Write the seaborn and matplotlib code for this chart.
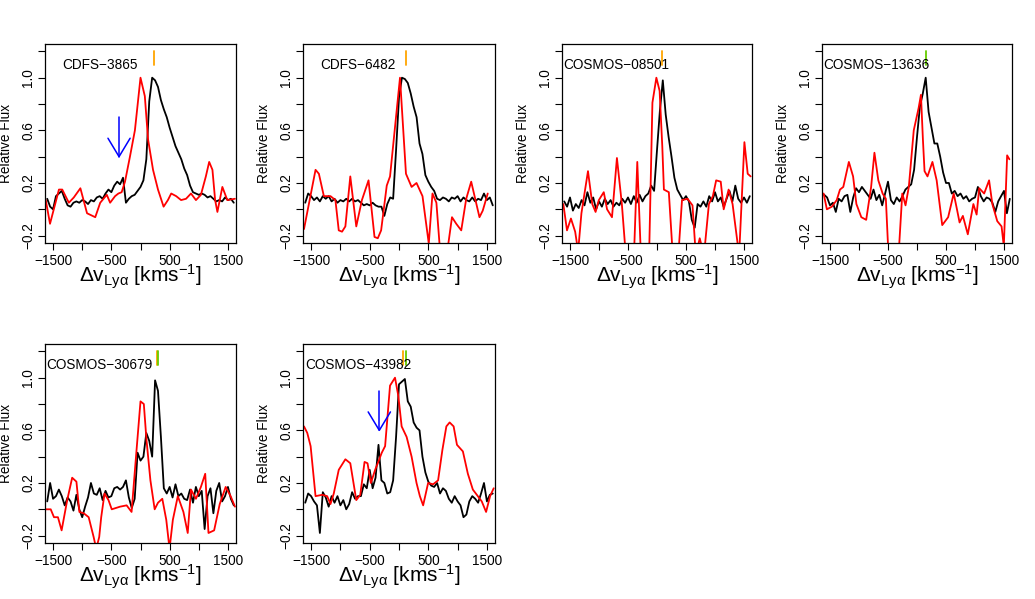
import matplotlib
matplotlib.use("Agg")
import matplotlib.pyplot as plt
import seaborn as sns

# --- data ---
names = ["CDFS\u22123865", "CDFS\u22126482", "COSMOS\u221208501",
         "COSMOS\u221213636", "COSMOS\u221230679", "COSMOS\u221243982"]

# black: high resolution spectrum, sampled on a common velocity grid (km/s)
vel_black = [-1600, -1550, -1500, -1450, -1400, -1350, -1300, -1250, -1200, -1150,
             -1100, -1050, -1000, -950, -900, -850, -800, -750, -700, -650,
             -600, -550, -500, -450, -400, -350, -300, -250, -200, -150,
             -100, -50, 0, 50, 100, 150, 200, 250, 300, 350,
             400, 450, 500, 550, 600, 650, 700, 750, 800, 850,
             900, 950, 1000, 1050, 1100, 1150, 1200, 1250, 1300, 1350,
             1400, 1450, 1500, 1550, 1600]

black_1 = [0.08, 0.02, 0.00, 0.10, 0.12, 0.14, 0.08, 0.03, 0.02, 0.05,
           0.06, 0.05, 0.07, 0.06, 0.04, 0.07, 0.06, 0.09, 0.10, 0.08,
           0.12, 0.15, 0.13, 0.18, 0.21, 0.19, 0.24, 0.05, 0.08, 0.10,
           0.11, 0.14, 0.17, 0.22, 0.38, 0.82, 1.00, 0.98, 0.93, 0.83,
           0.76, 0.70, 0.62, 0.55, 0.48, 0.43, 0.38, 0.31, 0.26, 0.18,
           0.13, 0.12, 0.11, 0.12, 0.11, 0.09, 0.10, 0.08, 0.06, 0.07,
           0.06, 0.09, 0.07, 0.08, 0.05]
black_2 = [0.05, 0.12, 0.10, 0.07, 0.09, 0.06, 0.10, 0.08, 0.10, 0.06,
           0.08, 0.05, 0.07, 0.06, 0.08, 0.06, 0.08, 0.06, 0.07, 0.05,
           0.03, 0.04, 0.03, 0.05, 0.03, 0.02, 0.02, -0.05, 0.04, 0.09,
           0.08, 0.45, 0.85, 1.00, 0.99, 0.96, 0.88, 0.78, 0.70, 0.50,
           0.42, 0.26, 0.21, 0.17, 0.14, 0.08, 0.07, 0.09, 0.08, 0.06,
           0.09, 0.08, 0.10, 0.06, 0.09, 0.07, 0.06, 0.09, 0.06, 0.08,
           0.07, 0.12, 0.07, 0.09, 0.03]
black_3 = [0.06, 0.02, 0.09, -0.01, 0.04, 0.01, 0.07, 0.03, 0.13, 0.05,
           0.09, 0.00, 0.06, 0.02, 0.08, 0.04, 0.07, 0.02, 0.05, 0.03,
           0.08, 0.05, 0.09, 0.04, 0.10, 0.05, 0.11, 0.06, 0.10, 0.12,
           0.18, 0.14, 0.45, 0.75, 0.98, 0.72, 0.55, 0.40, 0.24, 0.15,
           0.11, 0.07, 0.10, 0.06, -0.08, -0.14, 0.04, 0.02, 0.06, 0.02,
           0.10, 0.06, 0.13, 0.06, 0.09, 0.02, 0.08, 0.14, 0.06, 0.18,
           0.08, 0.05, 0.09, 0.05, 0.10]
black_4 = [0.11, 0.09, 0.03, 0.05, -0.02, 0.08, 0.06, 0.10, 0.11, -0.02,
           0.09, 0.16, 0.13, 0.17, 0.14, 0.11, 0.08, 0.15, 0.07, 0.11,
           0.03, 0.12, 0.21, 0.07, 0.04, 0.09, 0.06, 0.10, 0.15, 0.17,
           0.19, 0.30, 0.55, 0.78, 0.88, 1.00, 0.74, 0.62, 0.50, 0.50,
           0.40, 0.28, 0.20, 0.20, 0.12, 0.14, 0.10, 0.12, 0.08, 0.10,
           0.06, 0.08, 0.09, 0.17, 0.10, 0.06, 0.09, 0.08, 0.05, -0.02,
           0.06, 0.10, 0.14, -0.03, 0.08]
black_5 = [0.06, 0.20, 0.08, 0.10, 0.15, 0.10, 0.03, 0.09, 0.06, -0.01,
           0.11, 0.00, -0.06, 0.02, 0.09, 0.20, 0.12, 0.11, 0.16, 0.07,
           0.14, 0.09, 0.10, 0.16, 0.17, 0.15, 0.17, 0.22, 0.09, 0.01,
           0.08, 0.43, 0.37, 0.40, 0.58, 0.52, 0.40, 0.98, 0.90, 0.55,
           0.16, 0.12, 0.17, 0.09, 0.19, 0.10, 0.12, 0.08, 0.07, 0.15,
           0.05, 0.17, 0.10, 0.14, -0.15, 0.10, 0.16, -0.03, 0.14, 0.20,
           0.06, 0.10, 0.17, 0.08, 0.03]
black_6 = [0.05, 0.12, 0.10, 0.06, 0.03, -0.18, 0.13, 0.09, 0.02, 0.10,
           0.05, 0.10, 0.03, 0.07, 0.00, 0.04, 0.13, 0.08, 0.10, 0.10,
           0.19, 0.16, 0.30, 0.16, 0.24, 0.49, 0.22, 0.20, 0.12, 0.13,
           0.22, 0.55, 0.95, 0.97, 0.99, 0.82, 0.78, 0.66, 0.62, 0.60,
           0.40, 0.28, 0.21, 0.18, 0.17, 0.20, 0.12, 0.16, 0.14, 0.08,
           0.05, 0.10, 0.06, 0.03, -0.06, -0.04, 0.06, 0.10, 0.08, 0.05,
           0.12, 0.20, 0.06, 0.11, 0.12]

# red: lower resolution spectrum, own velocity samples per object
red_vel_1 = [-1625, -1552, -1399, -1342, -1229, -1144, -1031, -917, -776, -691,
             -578, -521, -436, -379, -323, -266, -181, -96, 0, 74,
             130, 215, 300, 396, 470, 527, 612, 696, 781, 866,
             951, 1036, 1121, 1178, 1234, 1280, 1319, 1404, 1489, 1619]
red_1 = [0.07, -0.11, 0.15, 0.15, 0.05, 0.09, 0.16, -0.03, -0.06, 0.05,
         0.11, 0.05, 0.10, 0.12, 0.13, 0.21, 0.40, 0.60, 1.00, 0.86,
         0.53, 0.30, 0.15, 0.02, 0.07, 0.12, 0.10, 0.07, 0.08, 0.12,
         0.07, 0.11, 0.25, 0.36, 0.30, 0.07, -0.02, 0.17, 0.07, 0.08]

red_vel_2 = [-1621, -1424, -1367, -1282, -1169, -1085, -1028, -972, -915, -831,
             -729, -633, -520, -418, -362, -305, -209, -153, 17, 119,
             215, 299, 401, 508, 571, 638, 706, 780, 836, 904,
             977, 1062, 1147, 1232, 1373, 1429, 1514]
red_2 = [-0.15, 0.30, 0.27, 0.10, 0.10, 0.07, -0.16, -0.17, -0.13, 0.25,
         -0.13, 0.07, 0.22, -0.21, -0.22, -0.16, 0.18, 0.25, 1.00, 0.27,
         0.17, 0.20, 0.10, -0.26, 0.12, 0.05, -0.35, -0.40, -0.28, -0.06,
         -0.11, -0.16, 0.08, 0.21, -0.06, -0.01, 0.12]

red_vel_3 = [-1615, -1552, -1484, -1411, -1360, -1303, -1190, -1116, -1059, -1003,
             -918, -861, -776, -691, -606, -538, -397, -340, -278, -136,
             -79, -11, 45, 91, 119, 204, 272, 368, 431, 527,
             612, 669, 737, 810, 895, 963, 1020, 1099, 1150, 1235,
             1303, 1416, 1507, 1564, 1615]
red_3 = [0.04, -0.16, -0.07, -0.17, -0.32, -0.03, 0.29, 0.04, -0.02, 0.07,
         0.13, 0.00, -0.06, 0.39, 0.04, -0.35, -0.35, 0.36, -0.35, -0.35,
         0.81, 1.00, 0.90, 0.48, 0.15, 0.13, -0.35, -0.35, 0.07, 0.08,
         0.03, -0.35, -0.22, -0.35, 0.04, 0.10, 0.22, 0.21, 0.00, 0.15,
         0.04, -0.35, 0.51, 0.27, 0.25]

red_vel_4 = [-1610, -1554, -1469, -1384, -1328, -1271, -1175, -1102, -1045, -960,
             -876, -791, -734, -667, -593, -537, -497, -407, -311, -254,
             -198, -141, -56, 28, 68, 102, 130, 181, 266, 339,
             435, 537, 633, 689, 734, 791, 876, 972, 1028, 1073,
             1158, 1243, 1299, 1384, 1458, 1497, 1554, 1593]
red_4 = [0.12, 0.00, 0.02, 0.07, 0.15, 0.17, 0.36, 0.25, 0.04, -0.06,
         -0.08, 0.17, 0.43, 0.22, 0.12, 0.08, -0.30, -0.40, -0.30, 0.12,
         0.03, 0.17, 0.60, 0.77, 0.87, 0.53, 0.29, 0.25, 0.36, 0.22,
         -0.12, -0.06, 0.12, 0.00, -0.10, -0.05, -0.19, 0.04, -0.04, 0.16,
         0.12, 0.22, 0.04, -0.09, -0.13, -0.28, 0.41, 0.38]

red_vel_5 = [-1625, -1540, -1484, -1416, -1353, -1257, -1172, -1099, -1048, -974,
             -889, -804, -759, -708, -674, -617, -549, -493, -351, -238,
             -153, -68, 0, 57, 102, 170, 243, 300, 374, 442,
             498, 555, 640, 736, 810, 866, 951, 1036, 1110, 1166,
             1263, 1359, 1461, 1546, 1620]
red_5 = [0.00, 0.00, -0.06, -0.06, -0.16, 0.07, 0.24, 0.21, -0.02, -0.03,
         -0.06, -0.21, -0.30, -0.21, -0.06, 0.12, 0.07, 0.00, 0.02, 0.03,
         -0.02, 0.45, 0.82, 0.80, 0.53, 0.22, 0.00, 0.05, 0.08, -0.08,
         -0.30, -0.08, 0.10, -0.02, -0.18, 0.15, 0.08, 0.17, 0.27, -0.18,
         -0.16, 0.04, 0.17, 0.10, 0.02]

red_vel_6 = [-1621, -1565, -1508, -1424, -1311, -1226, -1169, -1113, -1028, -915,
             -831, -729, -661, -588, -537, -480, -407, -362, -294, -237,
             -153, -68, -11, 45, 130, 215, 299, 356, 412, 497,
             582, 667, 740, 808, 864, 932, 989, 1090, 1175, 1260,
             1345, 1412, 1486, 1554, 1616]
red_6 = [0.63, 0.58, 0.48, 0.10, 0.11, 0.10, 0.04, 0.12, 0.30, 0.38,
         0.35, 0.07, 0.11, 0.36, 0.35, 0.20, 0.30, 0.35, 0.43, 0.48,
         0.94, 1.00, 0.86, 0.63, 0.55, 0.40, 0.20, 0.10, 0.03, 0.20,
         0.19, 0.22, 0.45, 0.63, 0.66, 0.63, 0.49, 0.44, 0.27, 0.15,
         0.10, 0.06, -0.02, 0.10, 0.16]

black_all = [black_1, black_2, black_3, black_4, black_5, black_6]
red_vel_all = [red_vel_1, red_vel_2, red_vel_3, red_vel_4, red_vel_5, red_vel_6]
red_all = [red_1, red_2, red_3, red_4, red_5, red_6]

# short vertical markers at the top of each panel (velocity, colour)
marks = [[(235, "orange")],
         [(114, "orange")],
         [(90, "orange")],
         [(158, "#66cc00")],
         [(285, "orange"), (300, "#66cc00")],
         [(62, "orange"), (122, "#66cc00")]]

# blue arrows: panel index, velocity, top and tip of shaft
arrow_panel = [0, 5]
arrow_vel = [-368, -336]
arrow_top = [0.70, 0.90]
arrow_tip = [0.40, 0.60]

# --- style ---
sns.set_theme(style="ticks")
plt.rcParams["font.family"] = ["Liberation Sans", "DejaVu Sans"]
plt.rcParams["mathtext.fontset"] = "custom"
plt.rcParams["mathtext.rm"] = "Liberation Sans"
plt.rcParams["mathtext.default"] = "regular"
for key in ["text.color", "axes.labelcolor", "xtick.color", "ytick.color",
            "xtick.labelcolor", "ytick.labelcolor"]:
    plt.rcParams[key] = "black"

W, H = 1035, 599
fig = plt.figure(figsize=(W / 100, H / 100), dpi=100)

col_left = [45, 303, 562, 822]
col_w = [191, 192, 190, 190]
row_top = [44, 344]
ax_h = 199

XLIM = (-1638, 1638)
YLIM = (-0.256, 1.256)
FS = 9.8

for i in range(6):
    r, c = divmod(i, 4)
    ax = fig.add_axes([col_left[c] / W, 1 - (row_top[r] + ax_h) / H,
                       col_w[c] / W, ax_h / H])

    sns.lineplot(x=vel_black, y=black_all[i], color="black", lw=1.3,
                 sort=False, estimator=None, ax=ax)
    sns.lineplot(x=red_vel_all[i], y=red_all[i], color="red", lw=1.3,
                 sort=False, estimator=None, ax=ax)

    for v, col in marks[i]:
        ax.plot([v, v], [1.10, 1.20], color=col, lw=1.3)

    if i in arrow_panel:
        k = arrow_panel.index(i)
        v, top, tip = arrow_vel[k], arrow_top[k], arrow_tip[k]
        ax.plot([v, v], [top, tip], color="blue", lw=1.1)
        ax.plot([v - 190, v, v + 190], [tip + 0.14, tip, tip + 0.14],
                color="blue", lw=1.1)

    ax.text(-700, 1.10, names[i], ha="center", va="center", fontsize=FS)

    ax.set_xlim(*XLIM)
    ax.set_ylim(*YLIM)
    ax.set_xticks([-1500, -1000, -500, 0, 500, 1000, 1500])
    ax.set_xticklabels(["\u22121500", "", "\u2212500", "", "500", "", "1500"],
                       fontsize=FS)
    ax.set_yticks([-0.2, 0.0, 0.2, 0.4, 0.6, 0.8, 1.0, 1.2])
    ax.set_yticklabels(["\u22120.2", "", "0.2", "", "0.6", "", "1.0", ""],
                       fontsize=FS, rotation=90, va="center")
    ax.tick_params(direction="out", length=5, width=0.8, color="black")
    ax.tick_params(axis="x", pad=3)
    ax.tick_params(axis="y", pad=2)
    for s in ax.spines.values():
        s.set_visible(True)
        s.set_color("black")
        s.set_linewidth(0.9)

    ax.set_xlabel(r"$\Delta$v$_{\mathrm{Ly}\alpha}$ [kms$^{-1}$]", fontsize=15)
    ax.xaxis.set_label_coords(0.5, -20 / ax_h)
    ax.set_ylabel("Relative Flux", fontsize=FS)
    ax.yaxis.set_label_coords(-32 / col_w[c], 0.5)
    ax.set_facecolor("white")
    ax.grid(False)

fig.savefig("out.png", dpi=100, facecolor="white")
